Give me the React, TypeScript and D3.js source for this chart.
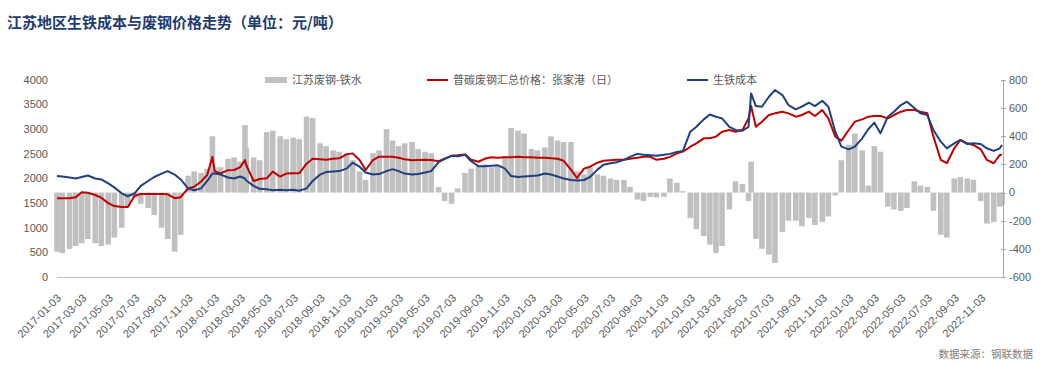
import React from 'react';
import * as d3 from 'd3';

const dates = [
  '2017-01-03','2017-01-15','2017-02-01','2017-02-15','2017-03-01','2017-03-15','2017-04-01','2017-04-15',
  '2017-05-01','2017-05-15','2017-06-01','2017-06-15','2017-07-01','2017-07-15','2017-08-01','2017-08-15',
  '2017-09-01','2017-09-15','2017-10-01','2017-10-15','2017-11-01','2017-11-15','2017-12-01','2017-12-15',
  '2017-12-27','2018-01-01','2018-01-15','2018-02-01','2018-02-15','2018-03-01','2018-03-12','2018-03-15',
  '2018-04-01','2018-04-15','2018-05-01','2018-05-15','2018-06-01','2018-06-15','2018-07-01','2018-07-15',
  '2018-08-01','2018-08-15','2018-09-01','2018-09-15','2018-10-01','2018-10-15','2018-11-01','2018-11-15',
  '2018-12-01','2018-12-15','2019-01-01','2019-01-15','2019-02-01','2019-02-15','2019-03-01','2019-03-15',
  '2019-04-01','2019-04-15','2019-05-01','2019-05-15','2019-06-01','2019-06-15','2019-07-01','2019-07-15',
  '2019-08-01','2019-08-15','2019-09-01','2019-09-15','2019-10-01','2019-10-15','2019-11-01','2019-11-15',
  '2019-12-01','2019-12-15','2020-01-01','2020-01-15','2020-02-01','2020-02-15','2020-03-01','2020-03-15',
  '2020-04-01','2020-04-15','2020-05-01','2020-05-15','2020-06-01','2020-06-15','2020-07-01','2020-07-15',
  '2020-08-01','2020-08-15','2020-09-01','2020-09-15','2020-10-01','2020-10-15','2020-11-01','2020-11-15',
  '2020-12-01','2020-12-15','2021-01-01','2021-01-15','2021-02-01','2021-02-15','2021-03-01','2021-03-15',
  '2021-04-01','2021-04-15','2021-05-01','2021-05-15','2021-05-21','2021-06-01','2021-06-15','2021-07-01',
  '2021-07-15','2021-08-01','2021-08-15','2021-09-01','2021-09-15','2021-10-01','2021-10-15','2021-11-01',
  '2021-11-15','2021-12-01','2021-12-15','2022-01-01','2022-01-15','2022-02-01','2022-02-15','2022-03-01',
  '2022-03-15','2022-04-01','2022-04-15','2022-05-01','2022-05-15','2022-06-01','2022-06-15','2022-07-01',
  '2022-07-15','2022-08-01','2022-08-15','2022-09-01','2022-09-15','2022-10-01','2022-10-15','2022-11-01',
  '2022-11-15','2022-12-01','2022-12-15','2022-12-20'
];

// 普碳废钢汇总价格：张家港（日） (left axis)
const scrapPrice = [
  1600,1600,1600,1620,1720,1710,1665,1610,
  1500,1440,1420,1420,1650,1685,1685,1685,
  1685,1680,1600,1620,1800,1834,1940,2070,
  2440,2150,2105,2170,2172,2230,2375,2270,
  1950,1990,2003,2140,2037,2100,2105,2105,
  2300,2400,2390,2380,2400,2409,2490,2510,
  2375,2172,2375,2443,2443,2443,2420,2390,
  2370,2375,2380,2375,2350,2400,2460,2470,
  2490,2380,2340,2400,2430,2420,2430,2430,
  2440,2430,2430,2420,2420,2410,2400,2360,
  2180,2010,2200,2240,2320,2360,2370,2380,
  2380,2400,2420,2440,2440,2380,2400,2440,
  2510,2545,2645,2713,2816,2816,2850,2951,
  2985,2951,2985,3221,3470,3050,3154,3289,
  3323,3357,3323,3255,3289,3357,3269,3390,
  3221,2850,2768,2985,3154,3200,3255,3269,
  3269,3221,3289,3357,3390,3390,3357,3323,
  2850,2377,2310,2613,2782,2714,2681,2592,
  2377,2310,2478,2480
];

// 生铁成本 (left axis)
const pigIronCost = [
  2050,2040,2020,2000,2030,2060,2000,1980,
  1900,1820,1700,1640,1700,1850,1950,2030,
  2100,2150,2080,1980,1800,1760,1800,1950,
  2100,2100,2080,2020,2000,2040,2000,1960,
  1850,1790,1780,1760,1770,1760,1770,1750,
  1800,1950,2080,2130,2140,2150,2200,2320,
  2240,2120,2080,2090,2150,2190,2150,2100,
  2080,2090,2120,2150,2330,2400,2460,2450,
  2480,2350,2250,2250,2260,2270,2200,2050,
  2030,2040,2050,2060,2100,2080,2040,2000,
  1970,1960,1970,2030,2180,2280,2310,2330,
  2380,2440,2500,2480,2470,2460,2480,2500,
  2540,2560,2950,3050,3200,3300,3255,3221,
  3050,2985,2970,3050,3728,3470,3458,3660,
  3796,3694,3492,3404,3458,3540,3470,3580,
  3458,2951,2647,2592,2647,2816,3000,3134,
  2917,3255,3357,3492,3559,3430,3323,3289,
  2985,2748,2613,2714,2782,2700,2714,2700,
  2613,2560,2613,2681
];

// 江苏废钢-铁水 (right axis)
const spread = [
  -420,-430,-400,-380,-360,-330,-360,-380,
  -370,-320,-250,-100,-40,-80,-110,-160,
  -250,-330,-420,-300,120,150,140,170,
  400,180,180,240,250,220,480,320,
  250,230,430,440,400,380,390,380,
  540,530,350,330,300,290,280,230,
  150,90,280,300,450,370,330,350,
  360,310,290,280,40,-60,-80,30,
  140,170,190,200,180,190,260,460,
  440,420,310,300,320,400,370,360,
  360,150,130,180,130,120,100,90,
  90,40,-50,-60,-30,-35,-30,100,
  70,10,-180,-260,-310,-370,-430,-380,
  -120,80,60,-60,220,-330,-400,-440,
  -500,-280,-200,-200,-240,-180,-230,-210,
  -170,-20,230,340,420,300,50,330,
  290,-100,-120,-130,-110,80,50,40,
  -130,-300,-320,100,110,100,90,-60,
  -220,-210,-100,-90
];

const xTickLabels = [
  '2017-01-03','2017-03-03','2017-05-03','2017-07-03','2017-09-03','2017-11-03',
  '2018-01-03','2018-03-03','2018-05-03','2018-07-03','2018-09-03','2018-11-03',
  '2019-01-03','2019-03-03','2019-05-03','2019-07-03','2019-09-03','2019-11-03',
  '2020-01-03','2020-03-03','2020-05-03','2020-07-03','2020-09-03','2020-11-03',
  '2021-01-03','2021-03-03','2021-05-03','2021-07-03','2021-09-03','2021-11-03',
  '2022-01-03','2022-03-03','2022-05-03','2022-07-03','2022-09-03','2022-11-03'
];
const leftTicks = [0, 500, 1000, 1500, 2000, 2500, 3000, 3500, 4000];
const rightTicks = [-600, -400, -200, 0, 200, 400, 600, 800];

const title = '江苏地区生铁成本与废钢价格走势（单位：元/吨）';
const legendLabels = ['江苏废钢-铁水', '普碳废钢汇总价格：张家港（日）', '生铁成本'];
const sourceText = '数据来源：钢联数据';

const LATIN = '"Liberation Sans", Arial, sans-serif';
const CJK = '"Noto Sans CJK SC", "Liberation Sans", sans-serif';

export default function App() {
  const W = 1057, H = 374;
  const parse = d3.timeParse('%Y-%m-%d');
  const xd = dates.map((s) => parse(s) as Date);
  const left = 57, right = 1002, top = 80, bottom = 277;
  const x = d3.scaleTime()
    .domain([parse('2017-01-03') as Date, parse('2022-12-20') as Date])
    .range([left, right]);
  const yL = d3.scaleLinear().domain([0, 4000]).range([bottom, top]);
  const yR = d3.scaleLinear().domain([-600, 800]).range([bottom, top]);

  const mkLine = (vals: number[]) =>
    d3.line<number>()
      .x((_, i) => x(xd[i]))
      .y((d) => yL(d))
      .curve(d3.curveLinear)(vals) || '';

  const barW = 5.6;
  const axisX = 1003;

  return (
    <svg width={W} height={H} style={{ position: 'absolute', left: 0, top: 0, background: '#fff' }}>
      <rect x={0} y={0} width={W} height={H} fill="#fff" />
      <text x={7} y={28} fontFamily={CJK} fontSize={15} fontWeight="bold" fill="#1F3B70">{title}</text>

      {/* bars */}
      <g>
        {spread.map((v, i) => {
          const cx = x(xd[i]);
          const y0 = yR(0), y1 = yR(v);
          return (
            <rect key={i} x={cx - barW / 2} y={Math.min(y0, y1)} width={barW}
              height={Math.abs(y1 - y0)} fill="#C0C0C0" />
          );
        })}
      </g>

      {/* bottom axis */}
      <line x1={left} x2={axisX} y1={bottom + 0.5} y2={bottom + 0.5} stroke="#BFBFBF" strokeWidth={1} />
      {/* right axis */}
      <line x1={axisX + 0.5} x2={axisX + 0.5} y1={top} y2={bottom} stroke="#A6A6A6" strokeWidth={1} />
      {rightTicks.map((t) => (
        <g key={t}>
          <line x1={axisX - 2} x2={axisX + 3} y1={Math.round(yR(t)) + 0.5} y2={Math.round(yR(t)) + 0.5} stroke="#A6A6A6" />
          <text x={1009} y={yR(t)} dy="0.35em" fontFamily={LATIN} fontSize={11} fill="#595959">{String(t)}</text>
        </g>
      ))}
      {leftTicks.map((t) => (
        <text key={t} x={48} y={yL(t)} dy="0.35em" textAnchor="end" fontFamily={LATIN} fontSize={11} fill="#595959">{String(t)}</text>
      ))}

      {/* lines */}
      <path d={mkLine(scrapPrice)} fill="none" stroke="#C00000" strokeWidth={2} strokeLinejoin="round" />
      <path d={mkLine(pigIronCost)} fill="none" stroke="#1F3F7F" strokeWidth={2} strokeLinejoin="round" />

      {/* x labels */}
      {xTickLabels.map((s) => {
        const tx = x(parse(s) as Date) + 2;
        const ty = 296;
        return (
          <text key={s} x={tx} y={ty} dy="0.35em" textAnchor="end" transform={`rotate(-45, ${tx}, ${ty})`}
            fontFamily={LATIN} fontSize={11} fill="#595959">{s}</text>
        );
      })}

      {/* legend */}
      <rect x={265} y={77} width={22} height={6} fill="#C0C0C0" />
      <text x={292} y={80} dy="0.35em" fontFamily={CJK} fontSize={11} fill="#595959">{legendLabels[0]}</text>
      <line x1={427} x2={448} y1={80} y2={80} stroke="#C00000" strokeWidth={2} />
      <text x={453} y={80} dy="0.35em" fontFamily={CJK} fontSize={11} fill="#595959">{legendLabels[1]}</text>
      <line x1={687} x2={708} y1={80} y2={80} stroke="#1F3F7F" strokeWidth={2} />
      <text x={713} y={80} dy="0.35em" fontFamily={CJK} fontSize={11} fill="#595959">{legendLabels[2]}</text>

      <text x={1033} y={354} dy="0.35em" textAnchor="end" fontFamily={CJK} fontSize={10.5} fill="#808080">{sourceText}</text>
    </svg>
  );
}
